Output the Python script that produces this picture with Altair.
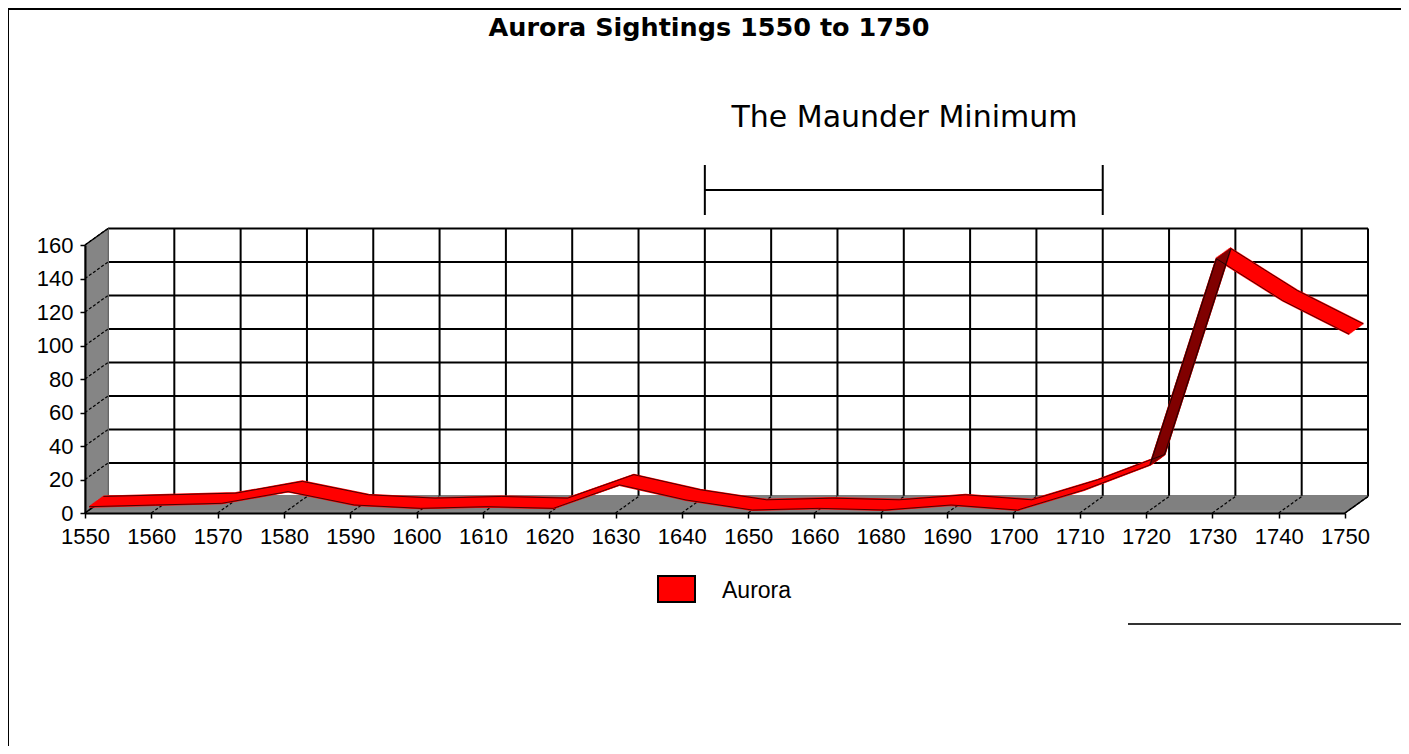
import altair as alt
import pandas as pd

# ---------------- data ----------------
YEARS = ["1550", "1560", "1570", "1580", "1590", "1600", "1610", "1620", "1630", "1640",
         "1650", "1660", "1680", "1690", "1700", "1710", "1720", "1730", "1740", "1750"]
AURORA = [2, 3, 4, 11, 3, 1, 2, 1, 15, 6, 0, 1, 0, 3, 0, 12, 27, 150, 125, 105]
Y_TICKS = [0, 20, 40, 60, 80, 100, 120, 140, 160]
SERIES = "Aurora"
TITLE = "Aurora Sightings 1550 to 1750"
ANNOTATION = "The Maunder Minimum"
MAUNDER_SPAN = ["1640", "1710"]
STEEP = ["1720", "1730"]

# ---------------- layout / style ----------------
W, H = 1260, 268
DX, DY = 23.0, -16.5          # 3-D depth offset in pixels
GRAY = "#808080"
RED = "#ff0000"
DARKRED = "#800000"
FONT = "Liberation Sans"

df = pd.DataFrame({"year": YEARS, "value": AURORA})
XS = alt.Scale(type="point", domain=YEARS, padding=0)
YS = alt.Scale(domain=[Y_TICKS[0], Y_TICKS[-1]], nice=False, zero=True)

x_axis = alt.Axis(title=None, labelAngle=0, labelFont=FONT, labelFontSize=22, labelColor="black",
                  labelPadding=8, tickSize=5, tickColor="black", tickWidth=1.5,
                  domainColor="black", domainWidth=2, grid=False, zindex=1, labelOverlap=False)
y_axis = alt.Axis(title=None, values=Y_TICKS, labelFont=FONT, labelFontSize=22, labelColor="black",
                  labelPadding=7, tickSize=5, tickColor="black", tickWidth=1.5,
                  domainColor="black", domainWidth=2, grid=False, zindex=1)

def X(f):
    return alt.X(f, scale=XS, axis=x_axis, title=None)

def Y(f):
    return alt.Y(f, scale=YS, axis=y_axis, title=None)

layers = []

# back wall grid
grid_h = pd.DataFrame({"v": Y_TICKS, "x0": YEARS[0], "x1": YEARS[-1]})
layers.append(alt.Chart(grid_h).mark_rule(color="black", strokeWidth=2, xOffset=DX, x2Offset=DX,
                                          yOffset=DY).encode(x=X("x0:O"), x2="x1", y=Y("v:Q")))
grid_v = pd.DataFrame({"year": YEARS, "y0": Y_TICKS[0], "y1": Y_TICKS[-1]})
layers.append(alt.Chart(grid_v).mark_rule(color="black", strokeWidth=2, xOffset=DX,
                                          yOffset=DY, y2Offset=DY).encode(x=X("year:O"), y=Y("y0:Q"), y2="y1"))

# left wall (gray sweep)
wall = pd.DataFrame({"x": [YEARS[0]], "y0": [Y_TICKS[0]], "y1": [Y_TICKS[-1]]})
NW = 23
for i in range(NW + 1):
    t = i / NW
    layers.append(alt.Chart(wall).mark_rule(color=GRAY, strokeWidth=1.6, xOffset=DX * t,
                                            yOffset=DY * t, y2Offset=DY * t)
                  .encode(x=X("x:O"), y=Y("y0:Q"), y2="y1"))

# floor (gray sweep)
floor = pd.DataFrame({"x0": [YEARS[0]], "x1": [YEARS[-1]], "y": [Y_TICKS[0]]})
NF = 16
for i in range(NF + 1):
    t = i / NF
    layers.append(alt.Chart(floor).mark_rule(color=GRAY, strokeWidth=1.6, xOffset=DX * t,
                                             x2Offset=DX * t, yOffset=DY * t)
                  .encode(x=X("x0:O"), x2="x1", y=Y("y:Q")))

# depth diagonals on floor and wall
diag_f = pd.DataFrame({"year": YEARS, "y0": Y_TICKS[0]})
layers.append(alt.Chart(diag_f).mark_rule(color="black", strokeWidth=1.2, strokeDash=[3, 2],
                                          x2Offset=DX, y2Offset=DY)
              .encode(x=X("year:O"), x2="year", y=Y("y0:Q"), y2="y0"))
diag_w = pd.DataFrame({"x": YEARS[0], "v": Y_TICKS})
layers.append(alt.Chart(diag_w).mark_rule(color="black", strokeWidth=1.2, strokeDash=[3, 2],
                                          x2Offset=DX, y2Offset=DY)
              .encode(x=X("x:O"), x2="x", y=Y("v:Q"), y2="v"))
edges = pd.DataFrame({"x": [YEARS[0], YEARS[0], YEARS[-1]],
                      "v": [Y_TICKS[0], Y_TICKS[-1], Y_TICKS[0]]})
layers.append(alt.Chart(edges).mark_rule(color="black", strokeWidth=1.5, x2Offset=DX, y2Offset=DY)
              .encode(x=X("x:O"), x2="x", y=Y("v:Q"), y2="v"))

# ribbon
NR = 16
F0, F1 = 0.18, 0.8
for i in range(NR + 1):
    f = F1 - (F1 - F0) * i / NR
    layers.append(alt.Chart(df).mark_line(color=RED, strokeWidth=2, xOffset=DX * f, yOffset=DY * f)
                  .encode(x=X("year:O"), y=Y("value:Q")))
for i in range(NR + 1):
    f = F1 - (F1 - F0) * i / NR
    layers.append(alt.Chart(df).transform_filter(alt.FieldOneOfPredicate(field="year", oneOf=STEEP))
                  .mark_line(color=DARKRED, strokeWidth=2, xOffset=DX * f, yOffset=DY * f)
                  .encode(x=X("year:O"), y=Y("value:Q")))
for f in (F0, F1):
    layers.append(alt.Chart(df).mark_line(color="black", strokeWidth=1, opacity=0.7,
                                          xOffset=DX * f, yOffset=DY * f)
                  .encode(x=X("year:O"), y=Y("value:Q")))

# Maunder Minimum bracket
span = pd.DataFrame({"x0": [MAUNDER_SPAN[0]], "x1": [MAUNDER_SPAN[1]]})
layers.append(alt.Chart(span).mark_rule(color="black", strokeWidth=2, xOffset=DX, x2Offset=DX)
              .encode(x=X("x0:O"), x2="x1", y=alt.value(-55)))
ends = pd.DataFrame({"year": MAUNDER_SPAN})
layers.append(alt.Chart(ends).mark_rule(color="black", strokeWidth=2, xOffset=DX)
              .encode(x=X("year:O"), y=alt.value(-80), y2=alt.value(-30)))
layers.append(alt.Chart(pd.DataFrame({"t": [ANNOTATION]})).mark_text(
    font="DejaVu Sans", fontSize=30, color="black", align="center", baseline="alphabetic")
    .encode(text="t:N", x=alt.value(819.5), y=alt.value(-118)))

# title
layers.append(alt.Chart(pd.DataFrame({"t": [TITLE]})).mark_text(
    font="DejaVu Sans", fontSize=25.5, fontWeight="bold", color="black", align="center",
    baseline="alphabetic").encode(text="t:N", x=alt.value(624), y=alt.value(-209)))

# legend
leg = pd.DataFrame({"t": [SERIES]})
layers.append(alt.Chart(leg).mark_rect(color=RED, stroke="black", strokeWidth=2).encode(
    x=alt.value(573), x2=alt.value(610), y=alt.value(331), y2=alt.value(357)))
layers.append(alt.Chart(leg).mark_text(font=FONT, fontSize=23, color="black", align="left",
                                       baseline="alphabetic")
              .encode(text="t:N", x=alt.value(637), y=alt.value(353)))

# frame and stray rule
layers.append(alt.Chart(leg).mark_rect(fill=None, stroke="black", strokeWidth=2).encode(
    x=alt.value(-77), x2=alt.value(1320), y=alt.value(-236), y2=alt.value(520)))
layers.append(alt.Chart(leg).mark_rule(color="#333333", strokeWidth=2).encode(
    x=alt.value(1043), x2=alt.value(1320), y=alt.value(379)))

chart = alt.layer(*layers).properties(
    width=W, height=H,
    padding={"left": 77, "top": 237, "right": 56, "bottom": 233},
    autosize=alt.AutoSizeParams(type="none"),
    background="white",
).configure_view(stroke=None)

chart.save("out.html", embed_options={"renderer": "svg", "actions": False})
